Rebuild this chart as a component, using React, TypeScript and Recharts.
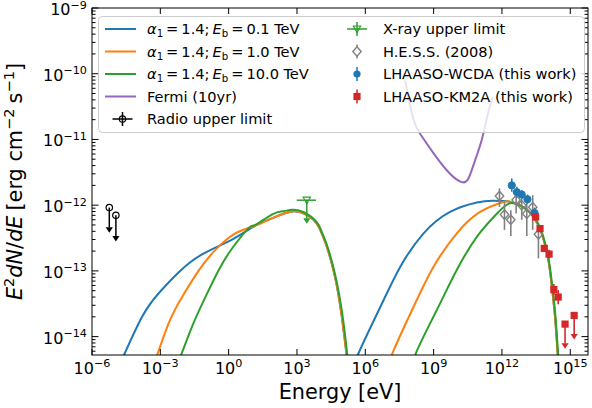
import React from 'react';
import { ComposedChart, Line, Scatter, XAxis, YAxis, ErrorBar } from 'recharts';

const WIDTH = 592;
const HEIGHT = 408;
const PLOT = { left: 92, top: 8, right: 588, bottom: 355 };
const FONT = '"DejaVu Sans", "Noto Sans", sans-serif';

const C = {
  blue: '#1f77b4',
  orange: '#ff7f0e',
  green: '#2ca02c',
  purple: '#9467bd',
  red: '#d62728',
  gray: '#808080',
  black: '#000000',
};

const X_DOMAIN: [number, number] = [1e-6, 6e15];
const Y_DOMAIN: [number, number] = [5.25e-15, 1e-9];
const X_MAJOR_EXP = [-6, -3, 0, 3, 6, 9, 12, 15];
const Y_MAJOR_EXP = [-15, -14, -13, -12, -11, -10, -9];
const MINOR_STEPS = [1, 2, 3, 4, 5, 6, 7, 8, 9];

// Model curves: [energy (eV), E^2 dN/dE (erg cm^-2 s^-1)]
const syncEb01 = [
  [1.78e-5, 3.98e-15], [1.58e-4, 2.0e-14], [8.5e-4, 4.57e-14], [6.46e-3, 9.55e-14],
  [6.76e-2, 1.78e-13], [1.41, 3.0e-13], [14.8, 4.9e-13], [79, 6.3e-13], [251, 7.4e-13],
  [794, 8.1e-13], [2.7e3, 7.1e-13], [7.4e3, 5.25e-13], [1.23e4, 3.7e-13], [2.04e4, 2.34e-13],
  [4.68e4, 8.1e-14], [9.3e4, 2.0e-14], [1.51e5, 5.25e-15], [1.78e5, 3.2e-15],
];
const syncEb1 = [
  [5.0e-4, 3.55e-15], [2.29e-3, 1.58e-14], [8.9e-3, 3.98e-14], [4.9e-2, 1.02e-13],
  [0.263, 2.09e-13], [1.95, 3.72e-13], [14.8, 4.9e-13], [79, 6.3e-13], [251, 7.4e-13],
  [794, 8.1e-13], [2.7e3, 7.1e-13], [7.4e3, 5.25e-13], [1.23e4, 3.7e-13], [2.04e4, 2.34e-13],
  [4.68e4, 8.1e-14], [9.3e4, 2.0e-14], [1.51e5, 5.25e-15], [1.78e5, 3.2e-15],
];
const syncEb10 = [
  [5.4e-3, 3.55e-15], [2.45e-2, 1.41e-14], [9.5e-2, 3.98e-14], [0.363, 1.02e-13],
  [1.41, 2.19e-13], [7.6, 4.47e-13], [14.8, 5.0e-13], [79, 7.2e-13], [251, 8.1e-13],
  [631, 8.5e-13], [2.0e3, 7.8e-13], [7.4e3, 5.5e-13], [1.23e4, 3.9e-13], [2.04e4, 2.5e-13],
  [4.68e4, 8.9e-14], [1.0e5, 2.1e-14], [1.62e5, 5.25e-15], [1.9e5, 3.2e-15],
];
const icEb01 = [
  [4.0e5, 3.55e-15], [4.68e5, 5.25e-15], [4.5e6, 2.8e-14], [3.4e7, 1.15e-13],
  [3.55e8, 3.7e-13], [5.25e9, 7.9e-13], [7.9e10, 1.1e-12], [4.0e11, 1.17e-12],
  [1.58e12, 1.15e-12], [2.3e12, 1.12e-12], [8.7e12, 9.3e-13], [2.4e13, 6.6e-13],
  [5.6e13, 3.7e-13], [1.1e14, 1.45e-13], [1.55e14, 5.75e-14], [2.14e14, 2.0e-14],
  [2.75e14, 6.0e-15], [3.16e14, 3.2e-15],
];
const icEb1 = [
  [1.12e7, 3.55e-15], [1.7e7, 6.0e-15], [1.29e8, 2.8e-14], [9.8e8, 1.15e-13],
  [1.02e10, 3.7e-13], [1.1e11, 7.9e-13], [1.15e12, 1.12e-12], [2.3e12, 1.12e-12],
  [8.7e12, 9.3e-13], [2.4e13, 6.6e-13], [5.6e13, 3.7e-13], [1.1e14, 1.45e-13],
  [1.55e14, 5.75e-14], [2.14e14, 2.0e-14], [2.75e14, 6.0e-15], [3.16e14, 3.2e-15],
];
const icEb10 = [
  [1.26e8, 3.2e-15], [1.82e8, 6.0e-15], [1.35e9, 2.5e-14], [1.02e10, 1.02e-13],
  [7.9e10, 3.3e-13], [5.9e11, 7.4e-13], [2.3e12, 1.07e-12], [8.7e12, 9.3e-13],
  [2.4e13, 6.8e-13], [5.6e13, 3.9e-13], [1.1e14, 1.55e-13], [1.58e14, 6.3e-14],
  [2.2e14, 2.2e-14], [2.82e14, 6.5e-15], [3.3e14, 3.2e-15],
];
const fermi10yr = [
  [5.6e7, 7.9e-11], [1.26e8, 2.1e-11], [2.5e8, 1.23e-11], [9.8e8, 6.2e-12],
  [5.25e9, 3.0e-12], [1.74e10, 2.24e-12], [3.4e10, 2.57e-12], [6.6e10, 4.8e-12],
  [1.29e11, 9.8e-12], [2.5e11, 2.57e-11], [3.9e11, 4.4e-11],
];

// Radio upper limits
const radioE = [5.75e-6, 1.12e-5];
const radioF = [9.2e-13, 7.0e-13];
const radioEnd = [4.6e-13, 3.4e-13];

// X-ray upper limit
const xrayE = [2.7e3];
const xrayF = [1.19e-12];
const xrayELo = [977];
const xrayEHi = [6.9e3];
const xrayEnd = [6.3e-13];

// H.E.S.S. (2008)
const hessE = [7.8e11, 1.29e12, 2.45e12, 4.2e12, 7.4e12, 1.23e13, 2.24e13, 4.0e13];
const hessF = [1.38e-12, 7.2e-13, 6.0e-13, 1.2e-12, 1.0e-12, 7.4e-13, 9.3e-13, 3.6e-13];
const hessLo = [9.4e-13, 4.2e-13, 3.4e-13, 7.5e-13, 6.0e-13, 3.4e-13, 4.2e-13, 1.55e-13];
const hessHi = [1.8e-12, 1.12e-12, 8.4e-13, 1.5e-12, 1.6e-12, 1.19e-12, 1.42e-12, 5.0e-13];

// LHAASO-WCDA
const wcdaE = [2.7e12, 4.5e12, 7.4e12, 1.32e13, 2.7e13];
const wcdaF = [2.0e-12, 1.58e-12, 1.45e-12, 1.23e-12, 7.6e-13];
const wcdaLo = [1.6e-12, 1.3e-12, 1.25e-12, 1.05e-12, 6.3e-13];
const wcdaHi = [2.55e-12, 1.9e-12, 1.7e-12, 1.45e-12, 9.2e-13];

// LHAASO-KM2A
const km2aE = [3.0e13, 4.7e13, 7.2e13, 1.17e14, 1.9e14, 2.95e14];
const km2aF = [6.6e-13, 4.4e-13, 2.2e-13, 1.8e-13, 5.2e-14, 4.0e-14];
const km2aLo = [6.0e-13, 3.9e-13, 1.95e-13, 1.55e-13, 4.3e-14, 3.1e-14];
const km2aHi = [7.2e-13, 4.9e-13, 2.5e-13, 2.1e-13, 6.3e-14, 5.1e-14];
const km2aUlE = [5.9e14, 1.48e15];
const km2aUlF = [1.55e-14, 2.1e-14];
const km2aUlEnd = [7.9e-15, 1.1e-14];

const toPts = (rows: number[][]) => rows.map(([e, f]) => ({ e, f }));
const withErr = (es: number[], fs: number[], lo: number[], hi: number[]) =>
  es.map((e, i) => ({ e, f: fs[i], err: [fs[i] - lo[i], hi[i] - fs[i]] }));
const upperLimits = (es: number[], fs: number[], ends: number[]) =>
  es.map((e, i) => ({ e, f: fs[i], err: [fs[i] - ends[i], 0] }));
const arrowHeads = (es: number[], ends: number[]) => es.map((e, i) => ({ e, f: ends[i] }));

const xTicks = X_MAJOR_EXP.map((p) => Math.pow(10, p));
const yTicks = Y_MAJOR_EXP.flatMap((p) => MINOR_STEPS.map((k) => k * Math.pow(10, p))).filter(
  (v) => v >= Y_DOMAIN[0] && v <= Y_DOMAIN[1] * 1.0001,
);

const expText = (p: number) => (p < 0 ? `\u2212${-p}` : `${p}`);

const XTick = (props: any) => {
  const { x, payload } = props;
  const p = Math.round(Math.log10(payload.value));
  return (
    <g>
      <line x1={x} x2={x} y1={PLOT.bottom} y2={PLOT.bottom - 6} stroke="#000" strokeWidth={1} />
      <line x1={x} x2={x} y1={PLOT.top} y2={PLOT.top + 6} stroke="#000" strokeWidth={1} />
      <text x={x} y={PLOT.bottom + 19} textAnchor="middle" fontSize={16} fontFamily={FONT} fill="#000">
        <tspan>10</tspan>
        <tspan fontSize={11.2} dy={-7}>{expText(p)}</tspan>
      </text>
    </g>
  );
};

const YTick = (props: any) => {
  const { y, payload } = props;
  const lg = Math.log10(payload.value);
  const major = Math.abs(lg - Math.round(lg)) < 1e-6;
  const len = major ? 6.5 : 3.5;
  return (
    <g>
      <line x1={PLOT.left} x2={PLOT.left + len} y1={y} y2={y} stroke="#000" strokeWidth={1} />
      <line x1={PLOT.right - len} x2={PLOT.right} y1={y} y2={y} stroke="#000" strokeWidth={1} />
      {major && (
        <text x={87} y={y + 7} textAnchor="end" fontSize={16} fontFamily={FONT} fill="#000">
          <tspan>10</tspan>
          <tspan fontSize={11.2} dy={-6.5}>{expText(Math.round(lg))}</tspan>
        </text>
      )}
    </g>
  );
};

const openCircle = (color: string) => (p: any) => (
  <circle cx={p.cx} cy={p.cy} r={3.2} fill="none" stroke={color} strokeWidth={1.2} />
);
const filledCircle = (color: string) => (p: any) => (
  <circle cx={p.cx} cy={p.cy} r={3.6} fill={color} stroke={color} strokeWidth={1} />
);
const filledSquare = (color: string) => (p: any) => (
  <rect x={p.cx - 3.6} y={p.cy - 3.6} width={7.2} height={7.2} fill={color} />
);
const openDiamond = (color: string) => (p: any) => (
  <path
    d={`M${p.cx},${p.cy - 4.8}L${p.cx + 4.2},${p.cy}L${p.cx},${p.cy + 4.8}L${p.cx - 4.2},${p.cy}Z`}
    fill="none"
    stroke={color}
    strokeWidth={1.4}
  />
);
const openTriangleDown = (color: string) => (p: any) => (
  <path
    d={`M${p.cx - 3.6},${p.cy - 3}L${p.cx + 3.6},${p.cy - 3}L${p.cx},${p.cy + 3.6}Z`}
    fill="none"
    stroke={color}
    strokeWidth={1.2}
  />
);
const caretDown = (color: string) => (p: any) => (
  <path d={`M${p.cx - 3.6},${p.cy}L${p.cx + 3.6},${p.cy}L${p.cx},${p.cy + 5.5}Z`} fill={color} />
);

const ModelLabel = ({ x, y, eb }: { x: number; y: number; eb: string }) => (
  <text x={x} y={y} fontSize={14.6} fontFamily={FONT} fill="#000">
    <tspan fontStyle="italic">α</tspan>
    <tspan fontSize={10.2} dy={3}>1</tspan>
    <tspan dy={-3} dx={3}>=</tspan>
    <tspan dx={3}>1.4;</tspan>
    <tspan dx={3} fontStyle="italic">E</tspan>
    <tspan fontSize={10.2} dy={3}>b</tspan>
    <tspan dy={-3} dx={3}>=</tspan>
    <tspan dx={3}>{eb}</tspan>
    <tspan dx={4.5}>TeV</tspan>
  </text>
);

const LEG = { x: 98.5, y: 16.5, w: 486, h: 116, col1Line: [105, 136], col1Text: 147, col2Mark: 357, col2Text: 383 };
const ROWS = [29, 51.5, 74, 96.5, 119];

const Overlay = () => {
  const [l0, l1] = LEG.col1Line;
  const m = LEG.col2Mark;
  const radioX = (l0 + l1) / 2 + 2;
  return (
    <svg width={WIDTH} height={HEIGHT} style={{ position: 'absolute', left: 0, top: 0, pointerEvents: 'none' }}>
      <rect
        x={PLOT.left}
        y={PLOT.top}
        width={PLOT.right - PLOT.left}
        height={PLOT.bottom - PLOT.top}
        fill="none"
        stroke="#000"
        strokeWidth={1}
      />
      {/* legend */}
      <rect x={LEG.x} y={LEG.y} width={LEG.w} height={LEG.h} rx={4} fill="#fff" fillOpacity={0.8} stroke="#cccccc" strokeWidth={1} />
      <line x1={l0} x2={l1} y1={ROWS[0]} y2={ROWS[0]} stroke={C.blue} strokeWidth={2} />
      <ModelLabel x={LEG.col1Text} y={ROWS[0] + 5} eb="0.1" />
      <line x1={l0} x2={l1} y1={ROWS[1]} y2={ROWS[1]} stroke={C.orange} strokeWidth={2} />
      <ModelLabel x={LEG.col1Text} y={ROWS[1] + 5} eb="1.0" />
      <line x1={l0} x2={l1} y1={ROWS[2]} y2={ROWS[2]} stroke={C.green} strokeWidth={2} />
      <ModelLabel x={LEG.col1Text} y={ROWS[2] + 5} eb="10.0" />
      <line x1={l0} x2={l1} y1={ROWS[3]} y2={ROWS[3]} stroke={C.purple} strokeWidth={2} />
      <text x={LEG.col1Text} y={ROWS[3] + 5} fontSize={14.6} fontFamily={FONT}>Fermi (10yr)</text>
      <line x1={radioX - 10} x2={radioX + 10} y1={ROWS[4]} y2={ROWS[4]} stroke={C.black} strokeWidth={1.5} />
      <line x1={radioX} x2={radioX} y1={ROWS[4] - 7} y2={ROWS[4] + 7} stroke={C.black} strokeWidth={1.5} />
      <circle cx={radioX} cy={ROWS[4]} r={3.2} fill="none" stroke={C.black} strokeWidth={1.2} />
      <text x={LEG.col1Text} y={ROWS[4] + 5} fontSize={14.6} fontFamily={FONT}>Radio upper limit</text>

      <line x1={m - 10} x2={m + 10} y1={ROWS[0]} y2={ROWS[0]} stroke={C.green} strokeWidth={1.5} />
      <line x1={m} x2={m} y1={ROWS[0] - 7} y2={ROWS[0] + 7} stroke={C.green} strokeWidth={1.5} />
      <path d={`M${m - 3.6},${ROWS[0] - 3}L${m + 3.6},${ROWS[0] - 3}L${m},${ROWS[0] + 3.6}Z`} fill="none" stroke={C.green} strokeWidth={1.2} />
      <text x={LEG.col2Text} y={ROWS[0] + 5} fontSize={14.6} fontFamily={FONT}>X-ray upper limit</text>
      <line x1={m} x2={m} y1={ROWS[1] - 7} y2={ROWS[1] + 7} stroke={C.gray} strokeWidth={1.5} />
      <path d={`M${m},${ROWS[1] - 4.8}L${m + 4.2},${ROWS[1]}L${m},${ROWS[1] + 4.8}L${m - 4.2},${ROWS[1]}Z`} fill="#fff" stroke={C.gray} strokeWidth={1.4} />
      <text x={LEG.col2Text} y={ROWS[1] + 5} fontSize={14.6} fontFamily={FONT}>H.E.S.S. (2008)</text>
      <line x1={m} x2={m} y1={ROWS[2] - 7} y2={ROWS[2] + 7} stroke={C.blue} strokeWidth={1.5} />
      <circle cx={m} cy={ROWS[2]} r={3.6} fill={C.blue} />
      <text x={LEG.col2Text} y={ROWS[2] + 5} fontSize={14.6} fontFamily={FONT}>LHAASO-WCDA (this work)</text>
      <line x1={m} x2={m} y1={ROWS[3] - 7} y2={ROWS[3] + 7} stroke={C.red} strokeWidth={1.5} />
      <rect x={m - 3.6} y={ROWS[3] - 3.6} width={7.2} height={7.2} fill={C.red} />
      <text x={LEG.col2Text} y={ROWS[3] + 5} fontSize={14.6} fontFamily={FONT}>LHAASO-KM2A (this work)</text>

      {/* axis labels */}
      <text x={(PLOT.left + PLOT.right) / 2} y={399} textAnchor="middle" fontSize={20.8} fontFamily={FONT}>
        Energy [eV]
      </text>
      <text
        transform={`translate(22, ${(PLOT.top + PLOT.bottom) / 2}) rotate(-90)`}
        textAnchor="middle"
        fontSize={20.8}
        fontFamily={FONT}
      >
        <tspan fontStyle="italic">E</tspan>
        <tspan fontSize={14.6} dy={-8}>2</tspan>
        <tspan dy={8} fontStyle="italic">dN</tspan>
        <tspan>/</tspan>
        <tspan fontStyle="italic">dE</tspan>
        <tspan dx={5}>[erg cm</tspan>
        <tspan fontSize={14.6} dy={-8}>{'\u22122'}</tspan>
        <tspan dy={8} dx={5}>s</tspan>
        <tspan fontSize={14.6} dy={-8}>{'\u22121'}</tspan>
        <tspan dy={8}>]</tspan>
      </text>
    </svg>
  );
};

const curve = (rows: number[][], color: string) => (
  <Line data={toPts(rows)} dataKey="f" type="natural" stroke={color} strokeWidth={2} dot={false} isAnimationActive={false} />
);

export default function App() {
  return (
    <div style={{ position: 'fixed', left: 0, top: 0, width: WIDTH, height: HEIGHT, background: '#fff' }}>
      <div style={{ position: 'absolute', left: 0, top: 0 }}>
        <ComposedChart width={WIDTH} height={HEIGHT} margin={{ top: PLOT.top, right: WIDTH - PLOT.right, bottom: 0, left: 0 }}>
          <XAxis
            type="number"
            dataKey="e"
            scale="log"
            domain={X_DOMAIN}
            allowDataOverflow
            ticks={xTicks}
            interval={0}
            tick={(p: any) => <XTick {...p} />}
            tickLine={false}
            axisLine={false}
            height={HEIGHT - PLOT.bottom}
          />
          <YAxis
            type="number"
            scale="log"
            domain={Y_DOMAIN}
            allowDataOverflow
            ticks={yTicks}
            interval={0}
            tick={(p: any) => <YTick {...p} />}
            tickLine={false}
            axisLine={false}
            width={PLOT.left}
          />
          {curve(syncEb01, C.blue)}
          {curve(icEb01, C.blue)}
          {curve(syncEb1, C.orange)}
          {curve(icEb1, C.orange)}
          {curve(syncEb10, C.green)}
          {curve(icEb10, C.green)}
          {curve(fermi10yr, C.purple)}

          <Scatter data={upperLimits(radioE, radioF, radioEnd)} dataKey="f" shape={openCircle(C.black)} isAnimationActive={false}>
            <ErrorBar dataKey="err" direction="y" width={0} stroke={C.black} strokeWidth={1.5} isAnimationActive={false} />
          </Scatter>
          <Scatter data={arrowHeads(radioE, radioEnd)} dataKey="f" shape={caretDown(C.black)} isAnimationActive={false} />

          <Scatter
            data={xrayE.map((e, i) => ({ e, f: xrayF[i], err: [xrayF[i] - xrayEnd[i], 0], xerr: [e - xrayELo[i], xrayEHi[i] - e] }))}
            dataKey="f"
            shape={openTriangleDown(C.green)}
            isAnimationActive={false}
          >
            <ErrorBar dataKey="err" direction="y" width={0} stroke={C.green} strokeWidth={1.5} isAnimationActive={false} />
            <ErrorBar dataKey="xerr" direction="x" width={0} stroke={C.green} strokeWidth={1.5} isAnimationActive={false} />
          </Scatter>
          <Scatter data={arrowHeads(xrayE, xrayEnd)} dataKey="f" shape={caretDown(C.green)} isAnimationActive={false} />

          <Scatter data={withErr(hessE, hessF, hessLo, hessHi)} dataKey="f" shape={openDiamond(C.gray)} isAnimationActive={false}>
            <ErrorBar dataKey="err" direction="y" width={0} stroke={C.gray} strokeWidth={1.6} isAnimationActive={false} />
          </Scatter>

          <Scatter data={withErr(wcdaE, wcdaF, wcdaLo, wcdaHi)} dataKey="f" shape={filledCircle(C.blue)} isAnimationActive={false}>
            <ErrorBar dataKey="err" direction="y" width={0} stroke={C.blue} strokeWidth={1.6} isAnimationActive={false} />
          </Scatter>

          <Scatter data={withErr(km2aE, km2aF, km2aLo, km2aHi)} dataKey="f" shape={filledSquare(C.red)} isAnimationActive={false}>
            <ErrorBar dataKey="err" direction="y" width={0} stroke={C.red} strokeWidth={1.6} isAnimationActive={false} />
          </Scatter>
          <Scatter data={upperLimits(km2aUlE, km2aUlF, km2aUlEnd)} dataKey="f" shape={filledSquare(C.red)} isAnimationActive={false}>
            <ErrorBar dataKey="err" direction="y" width={0} stroke={C.red} strokeWidth={1.6} isAnimationActive={false} />
          </Scatter>
          <Scatter data={arrowHeads(km2aUlE, km2aUlEnd)} dataKey="f" shape={caretDown(C.red)} isAnimationActive={false} />
        </ComposedChart>
      </div>
      <Overlay />
    </div>
  );
}
